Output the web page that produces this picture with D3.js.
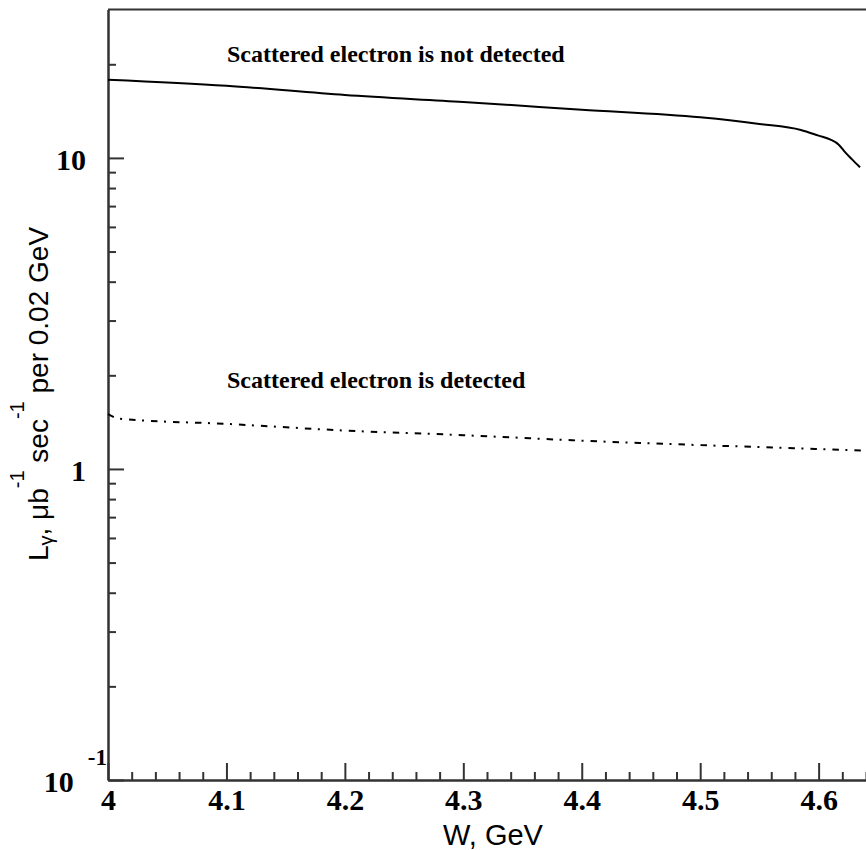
<!DOCTYPE html>
<html>
<head>
<meta charset="utf-8">
<script src="https://cdn.jsdelivr.net/npm/d3@7"></script>
<style>
  html, body { margin: 0; padding: 0; background: #fff; }
  svg { display: block; }
</style>
</head>
<body>
<svg id="chart" width="866" height="850"></svg>
<script>
// ---- data ----
const wSolid = [4.00, 4.10, 4.20, 4.30, 4.40, 4.50, 4.55, 4.585, 4.60, 4.61, 4.617, 4.6225, 4.628, 4.635];
const lumSolid = [17.84, 17.06, 15.93, 15.13, 14.29, 13.50, 12.86, 12.30, 11.79, 11.45, 11.03, 10.42, 9.91, 9.33];
const wDetected = [4.00, 4.01, 4.10, 4.20, 4.30, 4.40, 4.50, 4.60, 4.64];
const lumDetected = [1.50, 1.45, 1.396, 1.329, 1.284, 1.233, 1.193, 1.159, 1.145];
const xMajorTicks = [4.0, 4.1, 4.2, 4.3, 4.4, 4.5, 4.6];
const xMajorLabels = ["4", "4.1", "4.2", "4.3", "4.4", "4.5", "4.6"];
const yMajorTicks = [0.1, 1, 10];
const yMajorLabels = ["10", "1", "10"];
const yMinorTicks = [0.2,0.3,0.4,0.5,0.6,0.7,0.8,0.9,2,3,4,5,6,7,8,9,20];
const labelNotDetected = "Scattered electron is not detected";
const labelDetected = "Scattered electron is detected";

// ---- layout ----
const svg = d3.select("#chart");
const mLeft = 108, mBottom = 780, mTop = 9.5, mRight = 866;
const x = d3.scaleLinear().domain([4.0, 4.64]).range([mLeft, mRight]);
const y = d3.scaleLog().domain([0.1, 30]).range([mBottom, mTop]);
const axisColor = "#333";
const serif = "'Liberation Serif', 'Times New Roman', serif";
const sans = "'Liberation Sans', Arial, sans-serif";

// x minor ticks
const xMinor = d3.range(0, 33).map(i => +(4 + i * 0.02).toFixed(2)).filter(v => !xMajorTicks.some(m => Math.abs(m - v) < 1e-9));
const gxMinor = svg.append("g").attr("transform", `translate(0,${mBottom})`)
  .call(d3.axisBottom(x).tickValues(xMinor).tickSize(-8).tickSizeOuter(0).tickFormat(""));
const gx = svg.append("g").attr("transform", `translate(0,${mBottom})`)
  .call(d3.axisBottom(x).tickValues(xMajorTicks).tickSize(-17).tickSizeOuter(0)
    .tickFormat((d, i) => xMajorLabels[i]));
gx.selectAll("text").attr("y", 30).attr("dy", 0)
  .style("font-family", serif).style("font-weight", "bold").style("font-size", "30px").attr("fill", "#000");

// y minor
const gyMinor = svg.append("g").attr("transform", `translate(${mLeft},0)`)
  .call(d3.axisLeft(y).tickValues(yMinorTicks).tickSize(-8).tickSizeOuter(0).tickFormat(""));
const gy = svg.append("g").attr("transform", `translate(${mLeft},0)`)
  .call(d3.axisLeft(y).tickValues(yMajorTicks).tickSize(-16).tickSizeOuter(0)
    .tickFormat((d, i) => yMajorLabels[i]));
gy.selectAll("text")
  .attr("x", d => d === 0.1 ? -1 : -22)
  .attr("dy", 0).attr("y", 11.5)
  .style("font-family", serif).style("font-weight", "bold").style("font-size", "30px").attr("fill", "#000");
gy.selectAll(".tick").filter(d => d === 0.1).select("text")
  .append("tspan").attr("dx", 14).attr("dy", -27).style("font-size", "23px").text("-1");

[gx, gxMinor, gy, gyMinor].forEach(g => {
  g.selectAll("path, line").attr("stroke", axisColor).attr("stroke-width", 2);
});
// top frame line
svg.append("line").attr("x1", mLeft).attr("x2", mRight).attr("y1", y(30)).attr("y2", y(30))
  .attr("stroke", axisColor).attr("stroke-width", 2);

// ---- curves ----
const line = d3.line().x(d => x(d[0])).y(d => y(d[1])).curve(d3.curveMonotoneX);
svg.append("path").datum(wSolid.map((w, i) => [w, lumSolid[i]]))
  .attr("d", line).attr("fill", "none").attr("stroke", "#000").attr("stroke-width", 2);
svg.append("path").datum(wDetected.map((w, i) => [w, lumDetected[i]]))
  .attr("d", line).attr("fill", "none").attr("stroke", "#000").attr("stroke-width", 2)
  .attr("stroke-dasharray", "6.5,6.5,2,7");

// ---- annotations ----
svg.append("text").attr("x", 227).attr("y", 62).text(labelNotDetected)
  .style("font-family", serif).style("font-weight", "bold").style("font-size", "24px");
svg.append("text").attr("x", 227).attr("y", 388).text(labelDetected)
  .style("font-family", serif).style("font-weight", "bold").style("font-size", "24px");

// ---- axis titles ----
svg.append("text").attr("x", 493).attr("y", 845).attr("text-anchor", "middle")
  .style("font-family", sans).style("font-size", "29px").text("W, GeV");

const yt = svg.append("text").attr("transform", "translate(48,394) rotate(-90)")
  .attr("text-anchor", "middle").style("font-family", sans).style("font-size", "28px");
yt.append("tspan").text("L");
yt.append("tspan").attr("dy", 5).style("font-size", "20px").text("\u03B3");
yt.append("tspan").attr("dy", -5).text(", \u03BCb");
yt.append("tspan").attr("dy", -24).style("font-size", "20px").text("-1");
yt.append("tspan").attr("dy", 24).text(" sec");
yt.append("tspan").attr("dy", -24).style("font-size", "20px").text("-1");
yt.append("tspan").attr("dy", 24).text(" per 0.02 GeV");
</script>
</body>
</html>
